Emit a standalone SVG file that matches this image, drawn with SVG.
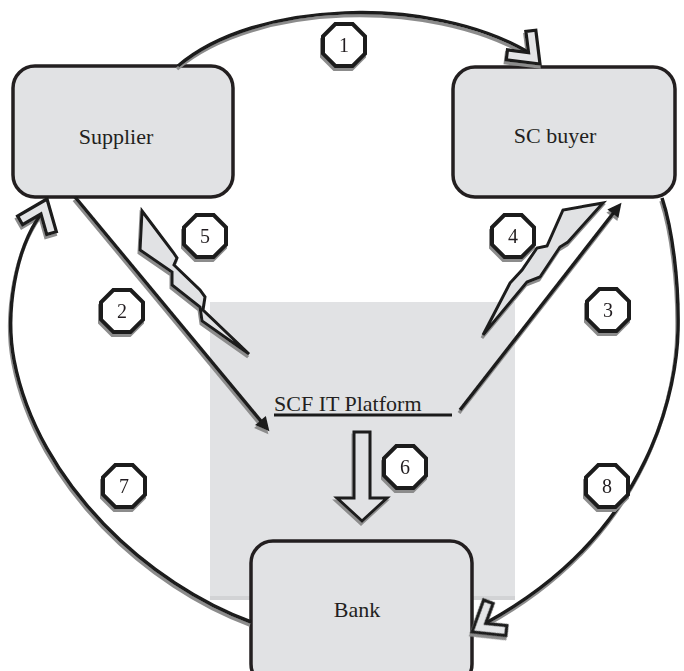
<svg xmlns="http://www.w3.org/2000/svg" xmlns:xlink="http://www.w3.org/1999/xlink" width="684" height="671" viewBox="0 0 684 671">
<style>
.box{fill:#e1e2e4;stroke:#231f20;stroke-width:3.5}
.lbl{font-family:"Liberation Serif","DejaVu Serif",serif;font-size:22px;fill:#231f20}
.num{font-family:"Liberation Serif","DejaVu Serif",serif;font-size:20px;fill:#231f20;text-anchor:middle}
.arc{fill:none;stroke:#1a1a1a;stroke-width:3.5}
.chev{fill:#e4e5e7;stroke:#1a1a1a;stroke-width:3.2;stroke-linejoin:miter}
.ln{fill:none;stroke:#1a1a1a;stroke-width:3.5}
.bolt{fill:#e1e2e4;stroke:#1a1a1a;stroke-width:3;stroke-linejoin:miter}
.oct{fill:#ffffff;stroke:#1a1a1a;stroke-width:4}
</style>
<defs>
<filter id="ds" filterUnits="userSpaceOnUse" x="0" y="0" width="684" height="671">
<feDropShadow dx="-1" dy="3" stdDeviation="0.4" flood-color="#8c8c8c" flood-opacity="1"/>
</filter>
<marker id="tri" viewBox="0 0 10 10" refX="7" refY="5" markerWidth="17" markerHeight="14" markerUnits="userSpaceOnUse" orient="auto">
<path d="M0,0 L10,5 L0,10 z" fill="#1a1a1a"/>
</marker>
<polygon id="chevron" points="0,0 -26.8,-20.9 -33,-13 -16.2,0 -33,13 -26.8,20.9"/>
<polygon id="octagon" points="-8.7,-21 8.7,-21 21,-8.7 21,8.7 8.7,21 -8.7,21 -21,8.7 -21,-8.7"/>
</defs>
<rect width="684" height="671" fill="#ffffff"/>

<g id="platform">
<rect x="210" y="302" width="305" height="298" fill="#e1e2e4"/>
<rect x="210" y="596" width="305" height="4" fill="#d2d3d5"/>
<text class="lbl" x="274" y="411">SCF IT Platform</text>
<line x1="274" y1="415" x2="452" y2="415" stroke="#1a1a1a" stroke-width="3"/>
</g>

<g id="supplier">
<rect class="box" x="13" y="66" width="220" height="131" rx="22"/>
<text class="lbl" x="116" y="144" text-anchor="middle">Supplier</text>
</g>

<g id="sc-buyer">
<rect class="box" x="453" y="67" width="222" height="130" rx="22"/>
<text class="lbl" x="555" y="143" text-anchor="middle">SC buyer</text>
</g>

<g id="bank">
<rect class="box" x="251" y="541" width="221" height="145" rx="22"/>
<text class="lbl" x="357" y="617" text-anchor="middle">Bank</text>
</g>

<g id="connectors" filter="url(#ds)">
<path class="arc" d="M178,66 C255,0 430,-5 528,52"/>
<use xlink:href="#chevron" class="chev" transform="translate(540,64) rotate(45)"/>
<path class="arc" d="M251,622 C150,585 38,485 14,360 C5,313 15,250 41,214"/>
<use xlink:href="#chevron" class="chev" transform="translate(47,199) rotate(-68)"/>
<path class="arc" d="M662,198 C672,228 679,280 678,330 C677,380 656,530 486,623"/>
<use xlink:href="#chevron" class="chev" transform="translate(472,632) rotate(148)"/>
<line class="ln" x1="75" y1="197" x2="266.7" y2="428.1" marker-end="url(#tri)"/>
<line class="ln" x1="460" y1="410" x2="618.9" y2="206" marker-end="url(#tri)"/>
<polygon class="bolt" points="142,211 173,252 177,258 174,265 200,290 205,297 203,310 249,354 202,321 200,307 172,285 172,272 140,250"/>
<polygon class="bolt" points="603,203 563,210 547,246 537,248 522,270 510,283 483,335 527,282 540,277 560,247 568,242"/>
<path d="M354,432 H370 V498 H387 L362,521 L337,498 H354 Z" fill="#e1e2e4" stroke="#1a1a1a" stroke-width="3"/>
</g>

<g id="labels" filter="url(#ds)">
<g id="badge1"><use xlink:href="#octagon" class="oct" transform="translate(344,45)"/><text class="num" x="344" y="52">1</text></g>
<g id="badge2"><use xlink:href="#octagon" class="oct" transform="translate(122,311)"/><text class="num" x="122" y="318">2</text></g>
<g id="badge3"><use xlink:href="#octagon" class="oct" transform="translate(608,310)"/><text class="num" x="608" y="317">3</text></g>
<g id="badge4"><use xlink:href="#octagon" class="oct" transform="translate(513,236)"/><text class="num" x="513" y="243">4</text></g>
<g id="badge5"><use xlink:href="#octagon" class="oct" transform="translate(205,236)"/><text class="num" x="205" y="243">5</text></g>
<g id="badge6"><use xlink:href="#octagon" class="oct" transform="translate(405,467)"/><text class="num" x="405" y="474">6</text></g>
<g id="badge7"><use xlink:href="#octagon" class="oct" transform="translate(124,486)"/><text class="num" x="124" y="493">7</text></g>
<g id="badge8"><use xlink:href="#octagon" class="oct" transform="translate(607,486)"/><text class="num" x="607" y="493">8</text></g>
</g>
</svg>
